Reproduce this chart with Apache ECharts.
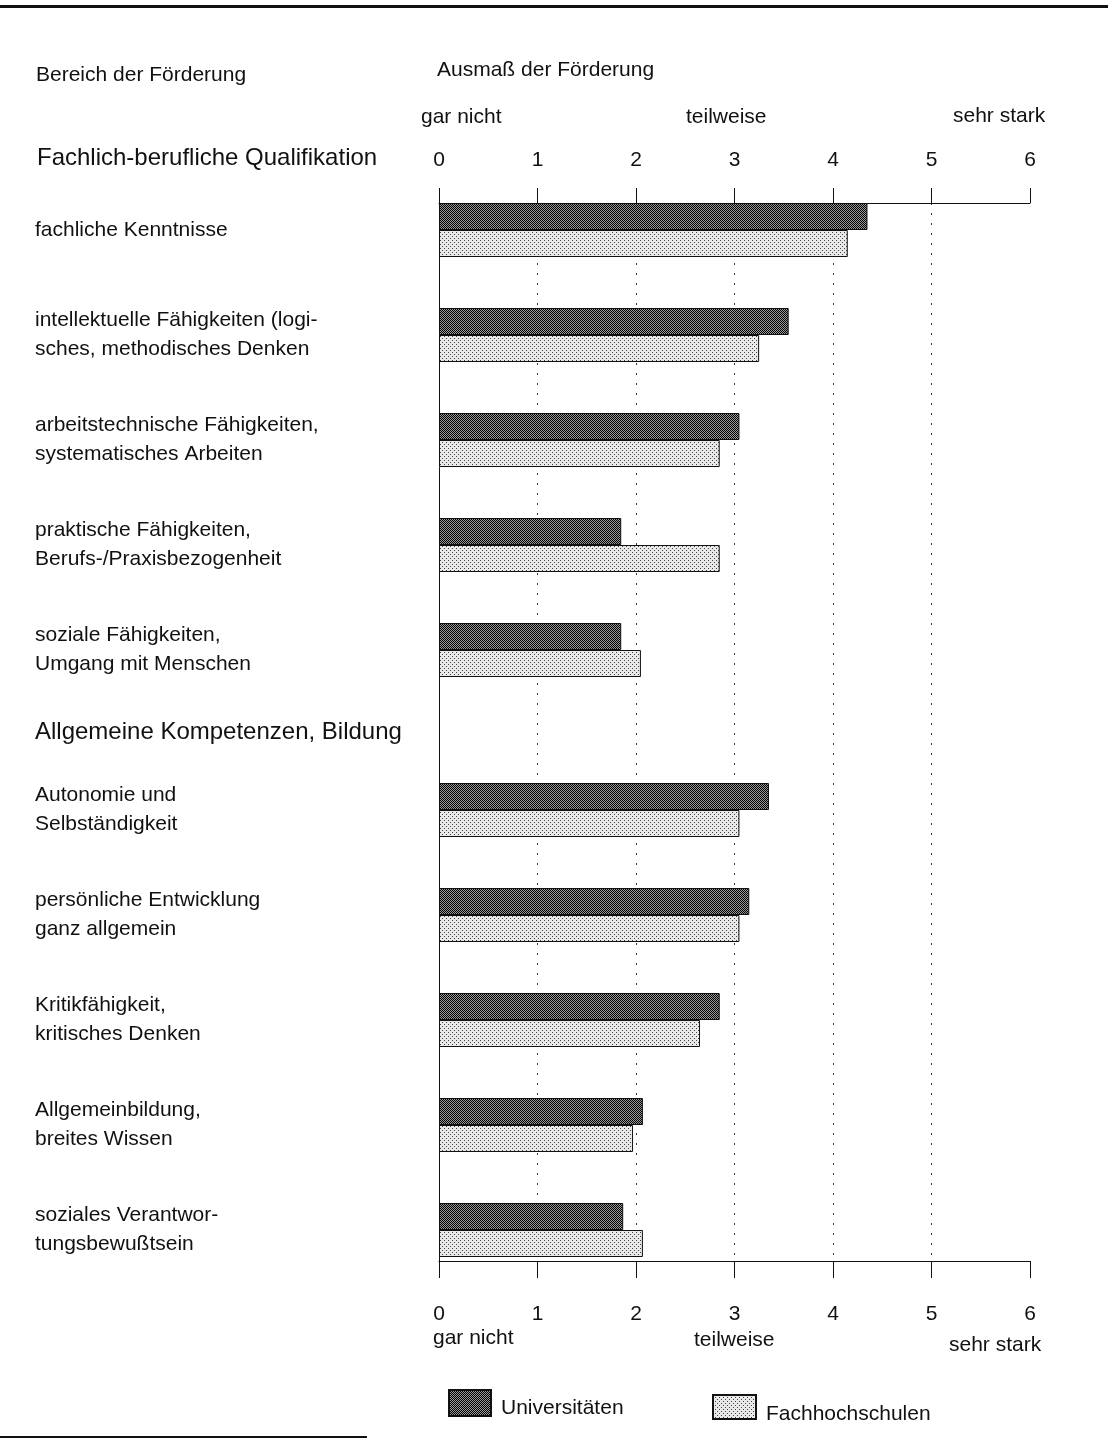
<!DOCTYPE html>
<html>
<head>
<meta charset="utf-8">
<script src="https://cdn.jsdelivr.net/npm/echarts@6/dist/echarts.min.js"></script>
<style>
html,body{margin:0;padding:0;background:#fff;}
#chart{width:1108px;height:1440px;}
</style>
</head>
<body>
<div id="chart"></div>
<script>
// ---- data ----
var categoriesA = [
  'fachliche Kenntnisse',
  'intellektuelle Fähigkeiten (logi-\nsches, methodisches Denken',
  'arbeitstechnische Fähigkeiten,\nsystematisches Arbeiten',
  'praktische Fähigkeiten,\nBerufs-/Praxisbezogenheit',
  'soziale Fähigkeiten,\nUmgang mit Menschen'
];
var categoriesB = [
  'Autonomie und\nSelbständigkeit',
  'persönliche Entwicklung\nganz allgemein',
  'Kritikfähigkeit,\nkritisches Denken',
  'Allgemeinbildung,\nbreites Wissen',
  'soziales Verantwor-\ntungsbewußtsein'
];
var uniA = [4.35, 3.55, 3.05, 1.85, 1.85];
var fhA  = [4.15, 3.25, 2.85, 2.85, 2.05];
var uniB = [3.35, 3.15, 2.85, 2.07, 1.87];
var fhB  = [3.05, 3.05, 2.65, 1.97, 2.07];
var seriesNames = ['Universitäten', 'Fachhochschulen'];
var sectionTitles = ['Fachlich-berufliche Qualifikation', 'Allgemeine Kompetenzen, Bildung'];
var scaleWords = ['gar nicht', 'teilweise', 'sehr stark'];
var axisMin = 0, axisMax = 6, axisStep = 1;

// ---- patterns ----
function makePattern(size, bg, dot, dots) {
  var c = document.createElement('canvas');
  c.width = size; c.height = size;
  var g = c.getContext('2d');
  g.fillStyle = bg; g.fillRect(0, 0, size, size);
  g.fillStyle = dot;
  dots.forEach(function (p) { g.fillRect(p[0], p[1], 1, 1); });
  return c;
}
var darkTile = makePattern(2, '#9a9a9a', '#000', [[0,0],[1,1]]);
var lightTile = makePattern(4, '#e9e9e9', '#404040', [[0,0],[2,2]]);
var darkColor = {image: darkTile, repeat: 'repeat'};
var lightColor = {image: lightTile, repeat: 'repeat'};

var FONT = '"Liberation Sans", Arial, Helvetica, sans-serif';
var TXT = '#111';
var L = 439, R = 78;
var FS = 21;

var chart = echarts.init(document.getElementById('chart'), null, {renderer: 'canvas'});

function barSeries(name, data, color, xi, yi) {
  return {
    type: 'bar', name: name, data: data,
    xAxisIndex: xi, yAxisIndex: yi,
    barWidth: 27, barGap: '0%',
    itemStyle: {color: color, borderColor: '#111', borderWidth: 1},
    emphasis: {disabled: true},
    animation: false
  };
}

var hiddenX = function (gi) {
  return {type: 'value', gridIndex: gi, min: axisMin, max: axisMax, interval: axisStep,
    show: false};
};
var catY = function (gi, cats) {
  return {type: 'category', gridIndex: gi, data: cats, inverse: true,
    axisLine: {show: false}, axisTick: {show: false},
    axisLabel: {align: 'left', margin: L - 35, fontFamily: FONT, fontSize: FS,
      lineHeight: 29, color: TXT}};
};

function txt(x, y, s, size) {
  return {type: 'text', x: x, y: y, style: {text: s, font: size + 'px ' + FONT, fill: TXT, textVerticalAlign: 'middle'}};
}

function legendAt(left, top, w, h, name, shift) {
  return {left: left, top: top, padding: 0, itemWidth: w, itemHeight: h, icon: 'rect',
    data: [name], selectedMode: false,
    formatter: '{a|{name}}',
    textStyle: {fontFamily: FONT, fontSize: FS, color: TXT,
      rich: {a: {fontFamily: FONT, fontSize: FS, color: TXT, padding: [shift, 0, 0, 5]}}}};
}

var option = {
  backgroundColor: '#fff',
  animation: false,
  grid: [
    {left: L, right: R, top: 203, height: 1058},
    {left: L, right: R, top: 177.5, height: 525},
    {left: L, right: R, top: 757.5, height: 525}
  ],
  xAxis: [
    {type: 'value', gridIndex: 0, position: 'top', min: axisMin, max: axisMax, interval: axisStep,
      axisLine: {show: true, onZero: false, lineStyle: {color: '#111', width: 1}},
      axisTick: {show: true, inside: false, length: 15, lineStyle: {color: '#111', width: 1}},
      axisLabel: {margin: 32, fontFamily: FONT, fontSize: FS, color: TXT},
      splitLine: {show: true, showMinLine: false, showMaxLine: false,
        lineStyle: {type: [2, 8], color: '#333', width: 1}}},
    {type: 'value', gridIndex: 0, position: 'bottom', min: axisMin, max: axisMax, interval: axisStep,
      axisLine: {show: true, onZero: false, lineStyle: {color: '#111', width: 1}},
      axisTick: {show: true, inside: false, length: 17, lineStyle: {color: '#111', width: 1}},
      axisLabel: {margin: 43, fontFamily: FONT, fontSize: FS, color: TXT},
      splitLine: {show: false}},
    hiddenX(1), hiddenX(2)
  ],
  yAxis: [
    {type: 'value', gridIndex: 0, min: 0, max: 1, show: true,
      axisLine: {show: true, onZero: false, lineStyle: {color: '#111', width: 1}},
      axisTick: {show: false}, axisLabel: {show: false}, splitLine: {show: false}},
    catY(1, categoriesA), catY(2, categoriesB)
  ],
  legend: [
    legendAt(448, 1389, 42, 26, seriesNames[0], 10),
    legendAt(712, 1394, 43, 24, seriesNames[1], 14)
  ],
  series: [
    barSeries(seriesNames[0], uniA, darkColor, 2, 1),
    barSeries(seriesNames[1], fhA, lightColor, 2, 1),
    barSeries(seriesNames[0], uniB, darkColor, 3, 2),
    barSeries(seriesNames[1], fhB, lightColor, 3, 2)
  ],
  graphic: [
    {type: 'rect', shape: {x: 0, y: 5, width: 1108, height: 3}, style: {fill: '#111'}},
    {type: 'rect', shape: {x: 0, y: 1436, width: 367, height: 2}, style: {fill: '#111'}},
    txt(36, 75, 'Bereich der Förderung', FS),
    txt(437, 70, 'Ausmaß der Förderung', FS),
    txt(421, 117, scaleWords[0], FS),
    txt(686, 117, scaleWords[1], FS),
    txt(953, 116, scaleWords[2], FS),
    txt(433, 1338, scaleWords[0], FS),
    txt(694, 1340, scaleWords[1], FS),
    txt(949, 1345, scaleWords[2], FS),
    txt(37, 158, sectionTitles[0], 24),
    txt(35, 732, sectionTitles[1], 24)
  ]
};
chart.setOption(option);
</script>
</body>
</html>
